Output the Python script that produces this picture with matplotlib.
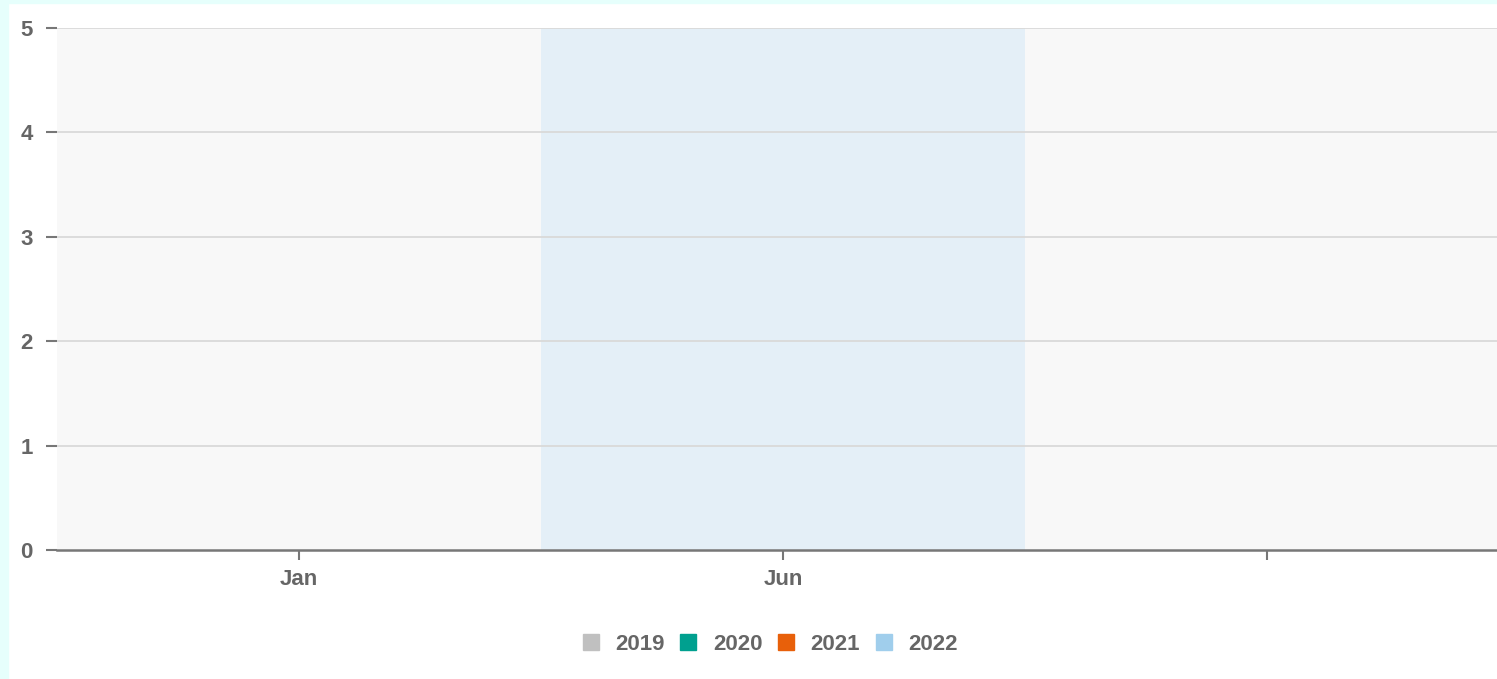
import matplotlib
matplotlib.use("Agg")
import matplotlib.pyplot as plt
from matplotlib.patches import Rectangle
from matplotlib.lines import Line2D
import numpy as np

categories = ["Jan", "Jun", ""]
series_names = ["2019", "2020", "2021", "2022"]
values_2019 = [0, 0, 0]
values_2020 = [0, 0, 0]
values_2021 = [0, 0, 0]
values_2022 = [0, 0, 0]
series_values = [values_2019, values_2020, values_2021, values_2022]
series_colors = ["#c0c0c0", "#00a08f", "#e8600a", "#a0ceec"]
yticks = [0, 1, 2, 3, 4, 5]

plt.rcParams['font.family'] = ['Liberation Sans', 'DejaVu Sans']

W, H = 1497, 679
fig = plt.figure(figsize=(W/100, H/100), dpi=100)
fig.patch.set_facecolor("white")
# cyan frame edges
fig.add_artist(Rectangle((0, 0), 8/W, 1, transform=fig.transFigure, color="#e6fffc", zorder=0))
fig.add_artist(Rectangle((0, 1-3/H), 1, 3/H, transform=fig.transFigure, color="#e6fffc", zorder=0))

left, right = 57/W, 1.0
bottom, top = 1 - 550/H, 1 - 28/H
ax = fig.add_axes([left, bottom, right-left, top-bottom])
ax.set_facecolor("white")

band = 484.0
xmax = -0.5 + (1497 - 57) / band
ax.set_xlim(-0.5, xmax)
ax.set_ylim(0, 5)

x = np.arange(len(categories))
for i in x:
    col = "#e4eff7" if i == 1 else "#f8f8f8"
    ax.axvspan(i - 0.5, i + 0.5, color=col, zorder=0, lw=0)

for yv in yticks[1:]:
    ax.axhline(yv, color="#d9d9d9", lw=1.3, zorder=1)

n = len(series_names)
w = 0.8 / n
for k, (vals, c) in enumerate(zip(series_values, series_colors)):
    ax.bar(x - 0.4 + w*(k+0.5), vals, width=w, color=c, zorder=2)

for s in ["top", "right", "left"]:
    ax.spines[s].set_visible(False)
ax.spines["bottom"].set_color("#777777")
ax.spines["bottom"].set_linewidth(1.8)
ax.spines["bottom"].set_zorder(3)

ax.set_yticks(yticks)
ax.set_yticklabels([str(v) for v in yticks])
ax.set_xticks(x)
ax.set_xticklabels(categories)
ax.tick_params(axis="y", length=8, width=1.5, color="#777777", pad=9.5,
               labelsize=16, labelcolor="#666666")
ax.tick_params(axis="x", length=7, width=1.5, color="#777777", pad=6.5,
               labelsize=16, labelcolor="#666666")
for lab in ax.get_xticklabels() + ax.get_yticklabels():
    lab.set_fontweight("bold")

handles = [Line2D([], [], marker="s", linestyle="none", markersize=11.5,
                  markerfacecolor=c, markeredgecolor=c) for c in series_colors]
leg = fig.legend(handles, series_names, loc="center", bbox_to_anchor=(771/W, 1-644/H),
                 ncol=4, frameon=False, handlelength=0.6, handletextpad=0.8,
                 columnspacing=0.77, prop={"weight": "bold", "size": 16})
for t in leg.get_texts():
    t.set_color("#666666")

fig.savefig("out.png", dpi=100)
